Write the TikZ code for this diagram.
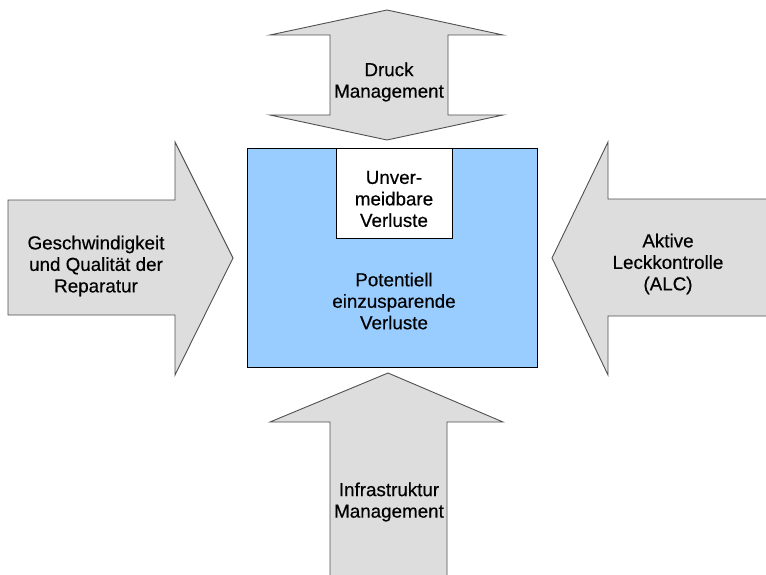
\documentclass[tikz,border=0pt]{standalone}
\usepackage{fontspec}
\setmainfont{Liberation Sans}[BoldFont={Liberation Sans},BoldFeatures={FakeBold=0.4}]
\definecolor{arrowfill}{HTML}{DDDDDD}
\definecolor{arrowline}{HTML}{505050}
\definecolor{boxblue}{HTML}{99CCFF}
\begin{document}
\begin{tikzpicture}[x=1pt,y=-1pt,
  arrowshape/.style={fill=arrowfill,draw=arrowline,line width=0.9pt,line join=miter},
  arrowbody/.style={fill=arrowfill},
  arrowedge/.style={draw=arrowline,line width=0.9pt},
  lbl/.style={align=center,font=\fontsize{18.8}{21.5}\selectfont\bfseries,inner sep=0pt},
  boxline/.style={draw=black,line width=0.9pt}]
\useasboundingbox (0,0) rectangle (766,575);
% top double arrow
\path[arrowshape] (387,10) -- (503,35) -- (448,35) -- (448,115) -- (503,115) -- (387,140)
  -- (270,115) -- (330,115) -- (330,35) -- (270,35) -- cycle;
% left arrow
\path[arrowshape] (8,200) -- (175,200) -- (175,142) -- (233,258) -- (175,375) -- (175,315) -- (8,315) -- cycle;
% right arrow (open at right edge)
\path[arrowbody] (766,199) -- (608,199) -- (608,142) -- (552,258) -- (608,375) -- (608,316) -- (766,316) -- cycle;
\draw[arrowedge] (766,199) -- (608,199) -- (608,142) -- (552,258) -- (608,375) -- (608,316) -- (766,316);
% bottom arrow (open at bottom edge)
\path[arrowbody] (330,575) -- (330,422) -- (270,422) -- (388,373) -- (503,422) -- (447,422) -- (447,575) -- cycle;
\draw[arrowedge] (330,575) -- (330,422) -- (270,422) -- (388,373) -- (503,422) -- (447,422) -- (447,575);
% main box
\node[boxline,fill=boxblue,minimum width=290pt,minimum height=219pt,inner sep=0pt] (main) at (392,257.5) {};
\node[boxline,fill=white,minimum width=116pt,minimum height=90pt,inner sep=0pt,anchor=north] (unv) at (394,148) {};
% labels
\node[lbl] (tunv) at (394,199) {Unver-\\meidbare\\Verluste};
\node[lbl] (tpot) at (394,301) {Potentiell\\einzusparende\\Verluste};
\node[lbl] (tdruck) at (389,82) {Druck\\Management};
\node[lbl] (tgesch) at (96,266) {Geschwindigkeit\\und Qualität der\\Reparatur};
\node[lbl] (talc) at (668,264) {Aktive\\Leckkontrolle\\(ALC)};
\node[lbl] (tinfra) at (389,502) {Infrastruktur\\Management};
\end{tikzpicture}
\end{document}
